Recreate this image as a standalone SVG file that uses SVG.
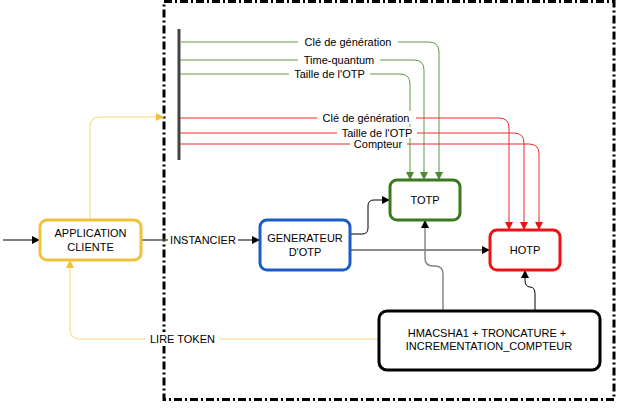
<svg xmlns="http://www.w3.org/2000/svg" width="634" height="420" viewBox="0 0 634 420">
<defs>
<style>
text{font-family:"Liberation Sans",Arial,sans-serif;font-size:11px;fill:#000;text-anchor:middle}
.node{fill:#fff;stroke-width:3}
.lbl{fill:#fff;stroke:none}
.c{fill:none}
</style>
<marker id="ak" markerUnits="userSpaceOnUse" markerWidth="10" markerHeight="10" viewBox="0 0 10 10" refX="9" refY="5" orient="auto"><path d="M1,1 L9,5 L1,9 z" fill="#000"/></marker>
<marker id="ag" markerUnits="userSpaceOnUse" markerWidth="10" markerHeight="10" viewBox="0 0 10 10" refX="9" refY="5" orient="auto"><path d="M1,1 L9,5 L1,9 z" fill="#4f8a2b"/></marker>
<marker id="ar" markerUnits="userSpaceOnUse" markerWidth="10" markerHeight="10" viewBox="0 0 10 10" refX="9" refY="5" orient="auto"><path d="M1,1 L9,5 L1,9 z" fill="#ee1111"/></marker>
<marker id="ay" markerUnits="userSpaceOnUse" markerWidth="10" markerHeight="10" viewBox="0 0 10 10" refX="9" refY="5" orient="auto"><path d="M1,1 L9,5 L1,9 z" fill="#f0c23a"/></marker>
</defs>
<rect width="634" height="420" fill="#fff"/>
<!-- container -->
<rect id="container" x="164" y="1.5" width="450" height="398" fill="none" stroke="#000" stroke-width="3" stroke-dasharray="8 3 2 3"/>
<line id="bar" x1="179" y1="29" x2="179" y2="160" stroke="#444" stroke-width="3"/>
<g id="connectors">
<path class="c" d="M181,42 H429 Q439,42 439,52 V180" stroke="#5e9a3e" marker-end="url(#ag)"/>
<path class="c" d="M180,60 H414 Q424,60 424,70 V180" stroke="#5e9a3e" marker-end="url(#ag)"/>
<path class="c" d="M180,74 H400 Q410,74 410,84 V180" stroke="#5e9a3e" marker-end="url(#ag)"/>
<path class="c" d="M180,118 H499 Q509,118 509,128 V230" stroke="#ee2a2a" marker-end="url(#ar)"/>
<path class="c" d="M180,133 H514 Q524,133 524,143 V230" stroke="#ee2a2a" marker-end="url(#ar)"/>
<path class="c" d="M180,144 H529 Q539,144 539,154 V230" stroke="#ee2a2a" marker-end="url(#ar)"/>
<path class="c" d="M3,240 H40" stroke="#555" stroke-width="1.5" marker-end="url(#ak)"/>
<path class="c" d="M141,240 H260" stroke="#555" stroke-width="1.5" marker-end="url(#ak)"/>
<path class="c" d="M90,220 V127 Q90,117 100,117 H164" stroke="#f3d574" marker-end="url(#ay)"/>
<path class="c" d="M379,339 H80 Q70,339 70,329 V260" stroke="#f3d574" marker-end="url(#ay)"/>
<path class="c" d="M350,234 H362 Q368,234 368,228 V206 Q368,200 374,200 H390" stroke="#000" marker-end="url(#ak)"/>
<path class="c" d="M350,250 H490" stroke="#666" stroke-width="1.5" marker-end="url(#ak)"/>
<path class="c" d="M443,311 V274 Q443,266 435,266 H433 Q425,266 425,258 V220" stroke="#888" stroke-width="1.5" marker-end="url(#ak)"/>
<path class="c" d="M535,311 V294 Q535,287 530,287 Q525,287 525,280 V270" stroke="#000" marker-end="url(#ak)"/>
<g id="labels">
<rect class="lbl" x="298" y="35" width="100" height="13"/><text x="348" y="46">Clé de génération</text>
<rect class="lbl" x="298" y="54" width="82" height="12"/><text x="339" y="64">Time-quantum</text>
<rect class="lbl" x="289" y="68" width="81" height="12"/><text x="329.5" y="78">Taille de l'OTP</text>
<rect class="lbl" x="317" y="111" width="99" height="13"/><text x="366" y="122">Clé de génération</text>
<rect class="lbl" x="337" y="127" width="80" height="11"/><text x="377" y="137">Taille de l'OTP</text>
<rect class="lbl" x="350" y="138" width="57" height="12"/><text x="378" y="148">Compteur</text>
<rect class="lbl" x="168" y="233" width="70" height="14"/><text x="203" y="244">INSTANCIER</text>
<rect class="lbl" x="145" y="332" width="75" height="14"/><text x="182.5" y="343">LIRE TOKEN</text>
</g>
</g>
<g id="app">
<rect class="node" x="40" y="220" width="101" height="40" rx="7" stroke="#f0c23a"/>
<text x="90.5" y="236.5">APPLICATION</text>
<text x="90.5" y="250.5">CLIENTE</text>
</g>
<g id="generateur">
<rect class="node" x="260" y="220" width="90" height="50" rx="7" stroke="#1c5cc6"/>
<text x="305" y="242">GENERATEUR</text>
<text x="305" y="255.5">D'OTP</text>
</g>
<g id="totp">
<rect class="node" x="390" y="180" width="70" height="40" rx="7" stroke="#3a7a1e"/>
<text x="425" y="204">TOTP</text>
</g>
<g id="hotp">
<rect class="node" x="490" y="230" width="70" height="40" rx="7" stroke="#ee1111"/>
<text x="525" y="254">HOTP</text>
</g>
<g id="hmac">
<rect class="node" x="379" y="311" width="221" height="59" rx="8" stroke="#000"/>
<text x="487" y="337">HMACSHA1 + TRONCATURE +</text>
<text x="489" y="350">INCREMENTATION_COMPTEUR</text>
</g>
</svg>
